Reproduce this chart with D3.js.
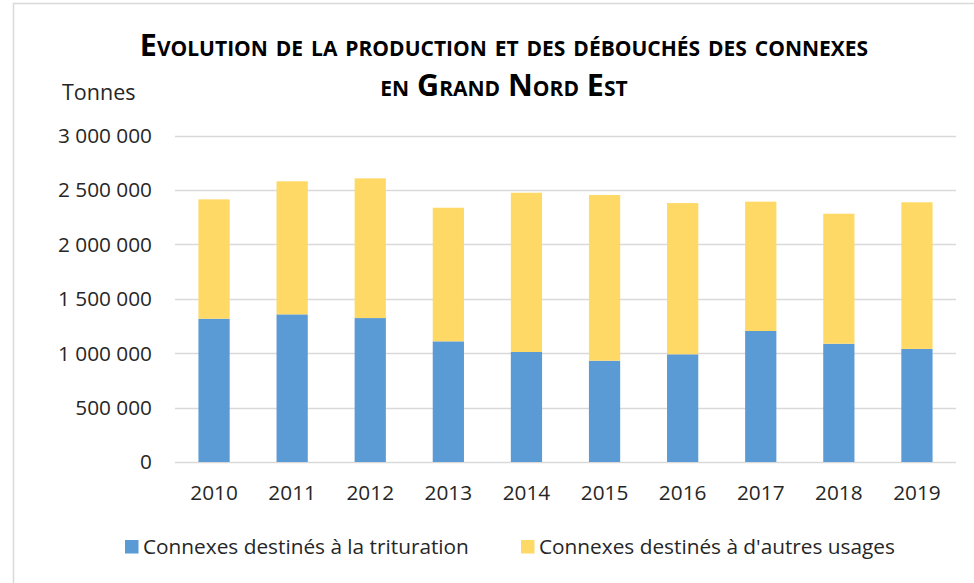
<!DOCTYPE html>
<html>
<head>
<meta charset="utf-8">
<script src="https://cdn.jsdelivr.net/npm/d3@7"></script>
<style>
  body { margin: 0; background: #fff; }
  text { font-family: "Open Sans", sans-serif; fill: #262626; }
</style>
</head>
<body>
<div id="chart"></div>
<script>
var years = ['2010','2011','2012','2013','2014','2015','2016','2017','2018','2019'];
var trituration = [1317000, 1357000, 1323000, 1109000, 1011000, 931000, 990000, 1204000, 1087000, 1039000];
var autres = [1097000, 1223000, 1284000, 1228000, 1464000, 1523000, 1390000, 1189000, 1195000, 1348000];
var yTicks = [0, 500000, 1000000, 1500000, 2000000, 2500000, 3000000];
var seriesNames = ['Connexes destinés à la trituration', "Connexes destinés à d'autres usages"];
var colors = ['#5b9bd5', '#ffd966'];

var W = 974, H = 583;
var svg = d3.select('#chart')
            .append('svg')
            .attr('width', W)
            .attr('height', H);

// cadre
svg.append('path')
   .attr('d', 'M13.5,' + H + ' V3.5 H' + W)
   .attr('fill', 'none')
   .attr('stroke', '#d9d9d9')
   .attr('stroke-width', 1.5);

var x = d3.scaleBand().domain(years).range([175, 956]).paddingInner(0.6).paddingOuter(0.3);
var y = d3.scaleLinear().domain([0, 3000000]).range([462, 135.6]);

var fmt = function(v){ return d3.format(',')(v).replace(/,/g, ' '); };

// grille
svg.selectAll('.grid')
   .data(yTicks)
   .enter().append('line')
   .attr('x1', 175).attr('x2', 956)
   .attr('y1', function(d){ return Math.round(y(d)) + 0.5; })
   .attr('y2', function(d){ return Math.round(y(d)) + 0.5; })
   .attr('stroke', '#d9d9d9')
   .attr('stroke-width', 1.3);

svg.selectAll('.ylab')
   .data(yTicks)
   .enter().append('text')
   .attr('x', 152)
   .attr('y', function(d){ return y(d); })
   .attr('dy', '0.36em')
   .attr('text-anchor', 'end')
   .style('font-size', '20.8px')
   .text(fmt);

// barres empilées
var stack = d3.stack().keys([0, 1]).value(function(d, k){ return d[k]; });
var rows = years.map(function(yr, i){ return {0: trituration[i], 1: autres[i], year: yr}; });
var layers = stack(rows);

svg.selectAll('.layer')
   .data(layers)
   .enter().append('g')
   .attr('fill', function(d, i){ return colors[i]; })
   .selectAll('rect')
   .data(function(d){ return d; })
   .enter().append('rect')
   .attr('x', function(d){ return x(d.data.year); })
   .attr('width', x.bandwidth())
   .attr('y', function(d){ return y(d[1]); })
   .attr('height', function(d){ return y(d[0]) - y(d[1]); });

// années
svg.selectAll('.xlab')
   .data(years)
   .enter().append('text')
   .attr('x', function(d){ return x(d) + x.bandwidth() / 2; })
   .attr('y', 500)
   .attr('text-anchor', 'middle')
   .style('font-size', '20.8px')
   .text(function(d){ return d; });

svg.append('text')
   .attr('x', 62).attr('y', 100)
   .style('font-size', '21.5px')
   .text('Tonnes');

// titre
var titre = ['Evolution de la production et des débouchés des connexes', 'en Grand Nord Est'];
svg.selectAll('.titre')
   .data(titre)
   .enter().append('text')
   .attr('x', 504)
   .attr('y', function(d, i){ return i == 0 ? 56 : 96; })
   .attr('text-anchor', 'middle')
   .style('font-size', '30.5px')
   .style('font-weight', 'bold')
   .style('font-variant', 'small-caps')
   .style('fill', '#000')
   .text(function(d){ return d; });

// légende
var legX = [125, 521];
var leg = svg.selectAll('.leg')
   .data(seriesNames)
   .enter().append('g')
   .attr('transform', function(d, i){ return 'translate(' + legX[i] + ',540)'; });
leg.append('rect')
   .attr('width', 13.5).attr('height', 13.5)
   .attr('fill', function(d, i){ return colors[i]; });
leg.append('text')
   .attr('x', 18).attr('y', 14)
   .style('font-size', '20.8px')
   .text(function(d){ return d; });
</script>
</body>
</html>
